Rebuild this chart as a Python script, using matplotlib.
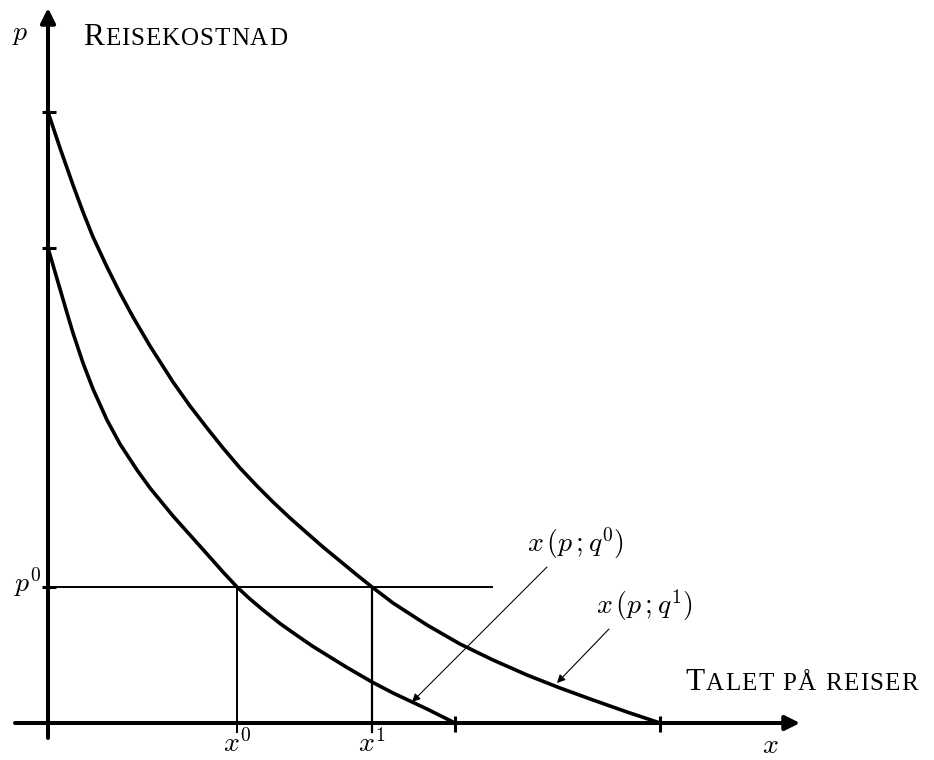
import matplotlib
matplotlib.use("Agg")
import matplotlib.pyplot as plt

# ---- data (arbitrary units) ----
# demand curve x(p; q0)  (inner curve)
inner_x = [0, 12, 19, 25, 35, 45, 59, 72, 89, 102, 125, 142, 159, 175, 189,
           202, 215, 232, 249, 265, 282, 299, 324, 345, 362, 379, 407]
inner_p = [475, 434, 410, 390, 360, 334, 303, 279, 253, 235, 207, 188, 169, 151, 136,
           124, 113, 99.5, 87.5, 76.5, 66, 55.5, 41, 30, 22, 14, 0]
# demand curve x(p; q1)  (outer curve)
outer_x = [0, 12, 25, 35, 45, 59, 72, 85, 102, 125, 142, 159, 175, 192, 209, 225,
           242, 259, 275, 292, 309, 324, 345, 379, 412, 445, 479, 512, 545, 579, 612]
outer_p = [611, 575, 538, 511, 486, 456, 430, 406, 377, 341, 317, 295, 275, 255, 237, 221,
           205, 190, 176, 162, 148, 136, 120, 98, 79, 63, 48, 35, 23, 11, 0]
p0 = 136
x0 = 189
x1 = 324
p_ticks = [611, 475, p0]
x_ticks = [407, 612]

plt.rcParams["mathtext.fontset"] = "cm"

fig = plt.figure(figsize=(9.34, 7.6), dpi=100)
ax = fig.add_axes([0, 0, 1, 1])
ax.set_xlim(-48, 934 - 48)
ax.set_ylim(723 - 760, 723)
ax.axis("off")

K = "black"
axis_lw = 2.9
# axes with arrows
ax.annotate("", xy=(752, 0), xytext=(-33, 0),
            arrowprops=dict(arrowstyle="-|>", lw=axis_lw, color=K,
                            mutation_scale=22, shrinkA=0, shrinkB=0))
ax.annotate("", xy=(0, 715), xytext=(0, -15),
            arrowprops=dict(arrowstyle="-|>", lw=axis_lw, color=K,
                            mutation_scale=22, shrinkA=0, shrinkB=0))

# ticks
for p in p_ticks:
    ax.plot([-6, 8], [p, p], color=K, lw=2.2, solid_capstyle="butt")
for xv in x_ticks:
    ax.plot([xv, xv], [-9, 7], color=K, lw=2.2, solid_capstyle="butt")

# guide lines
ax.plot([0, 444], [p0, p0], color=K, lw=1.4)
ax.plot([x0, x0], [-9, p0], color=K, lw=1.4)
ax.plot([x1, x1], [-9, p0], color=K, lw=1.6)

# demand curves
ax.plot(inner_x, inner_p, color=K, lw=2.6, solid_joinstyle="round")
ax.plot(outer_x, outer_p, color=K, lw=2.6, solid_joinstyle="round")

# labelling arrows
ax.annotate("", xy=(364, 21), xytext=(499, 156),
            arrowprops=dict(arrowstyle="-|>", lw=0.8, color=K,
                            mutation_scale=12, shrinkA=0, shrinkB=0))
ax.annotate("", xy=(509, 40), xytext=(561, 94),
            arrowprops=dict(arrowstyle="-|>", lw=0.8, color=K,
                            mutation_scale=12, shrinkA=0, shrinkB=0))

fs = 20
ax.text(527, 180, r"$x\,(p\,;q^0)$", fontsize=fs, ha="center", va="center")
ax.text(596, 118, r"$x\,(p\,;q^1)$", fontsize=fs, ha="center", va="center")
ax.text(-28, 690, r"$p$", fontsize=fs, ha="center", va="center")
ax.text(722, -22, r"$x$", fontsize=fs, ha="center", va="center")
ax.text(-20, 141, r"$p^0$", fontsize=fs, ha="center", va="center")
ax.text(189, -21, r"$x^0$", fontsize=fs, ha="center", va="center")
ax.text(324, -21, r"$x^1$", fontsize=fs, ha="center", va="center")

# small caps titles (letter by letter, spaced to the reference width)
renderer = fig.canvas.get_renderer()
serif = "Liberation Serif"
inv = ax.transData.inverted()


def smallcaps(x, y, big, rest, big_size, small_size, target_px):
    chars = [(big, big_size)] + [(c, small_size) for c in rest]
    widths = []
    for c, s in chars:
        if c == " ":
            widths.append(s * 0.25 * 100 / 72)
            continue
        t = ax.text(0, 0, c, fontsize=s, family=serif)
        widths.append(t.get_window_extent(renderer).width)
        t.remove()
    track = (target_px - sum(widths)) / (len(chars) - 1)
    x_disp, y_disp = ax.transData.transform((x, y))
    for (c, s), w in zip(chars, widths):
        if c != " ":
            xd, _ = inv.transform((x_disp, y_disp))
            ax.text(xd, y, c, fontsize=s, family=serif, va="baseline", ha="left")
        x_disp += w + track


smallcaps(35, 678, "R", "EISEKOSTNAD", 22.5, 18, 204)
smallcaps(637, 33, "T", "ALET PÅ REISER", 22.5, 18, 233)

fig.savefig("out.png", dpi=100)
